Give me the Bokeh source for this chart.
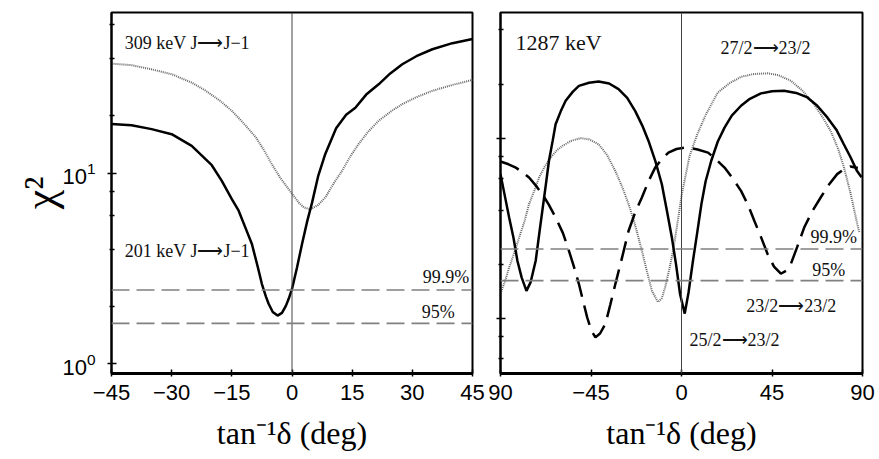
from bokeh.plotting import figure
from bokeh.layouts import row
from bokeh.models import FixedTicker, Span, Label, Range1d
from bokeh.embed import file_html
from bokeh.resources import INLINE

# ---------------- data ----------------
# Left panel: 201 keV J->J-1 (solid) and 309 keV J->J-1 (dotted grey)
l201_deg = [-45, -40, -35, -30, -25, -20, -17.5, -15, -13.3, -11.5, -10, -8.5, -7.5, -6.5,
            -5.8, -4.8, -3.6, -2.5, -1.5, -0.8, 0, 1.25, 2.5, 3.8, 5, 6.5, 8.3, 11, 13.5,
            15.8, 18.5, 21.6, 24.5, 27.5, 31, 35, 40, 45]
l201_chi = [18.1, 17.8, 17.0, 16.0, 13.9, 11.0, 9.1, 7.3, 6.35, 5.1, 4.25, 3.2, 2.62, 2.25,
            2.06, 1.87, 1.79, 1.85, 2.02, 2.2, 2.47, 3.2, 4.25, 5.6, 7.0, 9.6, 12.6, 17.2, 20.2,
            22.0, 25.8, 29.2, 33.3, 37.2, 41.0, 44.6, 48.0, 50.5]

l309_deg = [-45, -40, -35, -30, -25, -21.5, -18, -15, -12, -9, -7, -5, -3, -1.5, 0, 1.7, 3,
            4.6, 6.5, 8.3, 10.5, 12.5, 14.5, 16.6, 19, 21.6, 25, 27.5, 31, 35, 40, 45]
l309_chi = [37.5, 36.8, 35.0, 33.0, 29.8, 27.0, 24.0, 21.2, 18.2, 15.4, 13.2, 11.1, 9.5, 8.6,
            7.8, 7.0, 6.6, 6.45, 6.8, 7.45, 8.9, 10.3, 12.2, 14.2, 16.5, 18.8, 21.3, 23.0,
            25.0, 27.0, 29.0, 30.8]

# Right panel, 1287 keV: 25/2->23/2 (solid), 27/2->23/2 (dotted grey), 23/2->23/2 (dashed)
r25_deg = [-90, -87.5, -85.7, -83.5, -81.6, -79.5, -77.1, -75, -72.5, -70.5, -69.2, -67.5,
           -65.9, -64, -62.6, -60, -57.6, -54, -51, -46, -41.2, -36, -31.3, -27, -23, -19.5,
           -16.4, -13, -9.8, -7.3, -4.8, -2.7, -0.7, 1.6, 3.5, 5.7, 7.8, 9.9, 12, 14.8, 18,
           21.4, 25, 29.6, 34, 39.5, 45, 51, 57, 62.6, 67.5, 72.5, 77, 80.7, 84, 87.3, 89.5]
r25_chi = [6.35, 4.6, 3.65, 2.8, 2.10, 1.7, 1.43, 1.6, 2.10, 3.1, 3.98, 5.5,
           7.53, 9.8, 12.0, 14.2, 16.2, 18.2, 19.6, 20.4, 20.7, 20.2, 18.8, 16.8, 14.2, 11.8,
           9.7, 7.5, 5.6, 4.0, 2.83, 2.0, 1.37, 1.07, 1.4, 2.10, 3.0, 4.33, 5.8, 7.53, 9.6,
           11.5, 13.4, 15.2, 16.6, 17.8, 18.3, 18.4, 17.9, 16.9, 15.2, 13.1, 11.2, 9.3, 7.9, 6.6, 6.1]

r27_deg = [-90, -87.5, -85.7, -83, -80.7, -78, -75.8, -73, -70.8, -68, -65, -62, -59.2, -55,
           -50.2, -46, -41.2, -37, -32.9, -29.5, -26.3, -23, -19.7, -17, -14.7, -11.7, -9.8,
           -8.1, -6, -4, -2, 0, 2, 4, 7.9, 12, 18, 24, 29.6, 36, 42.8, 48, 54.4, 60, 65.9, 70,
           74.2, 78, 80.8, 84, 87.4, 88.5]
r27_chi = [1.38, 1.65, 1.93, 2.35, 2.83, 3.5, 4.33, 5.2, 6.08, 7.0, 7.85, 8.6, 9.1, 9.7,
           10.05, 9.9, 9.3, 8.1, 6.6, 5.4, 4.33, 3.3, 2.39, 1.8, 1.43, 1.24, 1.3,
           1.50, 1.9, 2.45, 3.4, 4.8, 6.2, 8.0, 10.6, 13.5, 18.0, 20.3, 22.0, 22.8, 23.0, 22.5,
           20.9, 18.5, 15.5, 13.2, 11.0, 8.7, 6.9, 5.0, 3.36, 3.0]

r23_deg = [-90, -86, -82.4, -79, -75.8, -72.5, -69.2, -66, -62.6, -59, -56, -53.5, -51, -48.9,
           -46.9, -44.8, -42.8, -40.5, -37.8, -35.4, -32.9, -29.5, -26.3, -23, -19.7, -16.4,
           -13.1, -9.8, -6.5, -2.5, 1.6, 3.3, 8, 13.2, 17, 21.4, 25.5, 29.6, 33, 36.2, 39.5,
           42.8, 46, 49.4, 52, 54.4, 57.5, 61, 65, 69.2, 73, 77.4, 81, 84, 87.7]
r23_chi = [7.46, 7.2, 6.9, 6.5, 6.08, 5.5, 4.92, 4.3, 3.65, 3.0, 2.39, 1.95, 1.56, 1.25,
           1.02, 0.86, 0.79, 0.83, 0.94, 1.2, 1.56, 2.2, 3.08, 3.9, 4.71, 5.8,
           6.9, 7.7, 8.36, 8.75, 8.9, 8.9, 8.7, 8.36, 7.7, 6.9, 6.0, 5.13, 4.3, 3.5, 2.85,
           2.29, 1.95, 1.78, 1.85, 2.02, 2.5, 3.21, 3.95, 4.71, 5.5, 6.35, 6.8, 7.0, 6.86]

# confidence limits (reduced chi^2)
limit_999 = 2.44
limit_95 = 1.63

left_xticks = [-45, -30, -15, 0, 15, 30, 45]
right_xticks = [-90, -45, 0, 45, 90]
right_xlabels = {-90: "90", -45: "\u221245", 0: "0", 45: "45", 90: "90"}
left_xlabels = {-45: "\u221245", -30: "\u221230", -15: "\u221215", 0: "0", 15: "15", 30: "30", 45: "45"}

SERIF = "Liberation Serif"
SANS = "Liberation Sans"
ARROW = "\u27f6"


def make_fig(width, xr, yr, bl, br, xticks, xlabels, yminor):
    p = figure(width=width, height=459, x_range=Range1d(*xr), y_range=Range1d(*yr),
               y_axis_type="log", output_backend="svg", toolbar_location=None,
               min_border_left=bl, min_border_right=br, min_border_top=12,
               min_border_bottom=86)
    p.grid.visible = False
    p.background_fill_color = "white"
    p.border_fill_color = "white"
    p.outline_line_color = "black"
    p.outline_line_width = 2

    xa = p.xaxis[0]
    xa.ticker = FixedTicker(ticks=xticks)
    xa.major_label_overrides = {float(k): v for k, v in xlabels.items()}
    xa.major_label_text_font = SANS
    xa.major_label_text_font_size = "22px"
    xa.major_label_text_color = "black"
    xa.major_label_standoff = 8
    xa.major_tick_in = 4
    xa.major_tick_out = 3
    xa.major_tick_line_width = 1.5
    xa.minor_tick_line_color = None
    xa.axis_line_width = 3
    xa.axis_label = "tan\u207b\u00b9\u03b4 (deg)"
    xa.axis_label_text_font = SERIF
    xa.axis_label_text_font_style = "normal"
    xa.axis_label_text_font_size = "32px"
    xa.axis_label_standoff = 12
    xa.axis_label_text_color = "black"

    ya = p.yaxis[0]
    ya.ticker = FixedTicker(ticks=[1, 10], minor_ticks=yminor)
    ya.major_tick_in = 5
    ya.major_tick_out = 4
    ya.minor_tick_in = 3
    ya.minor_tick_out = 2
    ya.major_tick_line_width = 1.5
    ya.minor_tick_line_width = 1.5
    ya.axis_line_width = 2
    ya.major_label_text_font = SANS
    ya.major_label_text_font_size = "22px"
    ya.major_label_text_color = "black"
    ya.major_label_standoff = 12
    return p


# ---------------- left panel ----------------
p1 = make_fig(486, (-45, 45), (0.89, 69.5), 111, 14, left_xticks, left_xlabels,
              [2, 4, 6, 8, 20, 40, 60])
p1.yaxis[0].axis_label = "\u03c7\u00b2"
p1.yaxis[0].axis_label_text_font = SERIF
p1.yaxis[0].axis_label_text_font_style = "normal"
p1.yaxis[0].axis_label_text_font_size = "44px"
p1.yaxis[0].axis_label_text_color = "black"
p1.yaxis[0].axis_label_standoff = -6

p1.add_layout(Span(location=0, dimension="height", line_color="#444444", line_width=1))
for lv in (limit_999, limit_95):
    p1.add_layout(Span(location=lv, dimension="width", line_color="#808080",
                       line_width=1.6, line_dash="18 7"))
p1.line(l309_deg, l309_chi, line_color="#666666", line_width=2, line_dash="1 1")
p1.line(l201_deg, l201_chi, line_color="black", line_width=2.5)

for txt, x, y, al in [("309 keV J" + ARROW + "J\u22121", -41.7, 48.1, "left"),
                      ("201 keV J" + ARROW + "J\u22121", -41.7, 3.92, "left"),
                      ("99.9%", 44.2, 2.84, "right"),
                      ("95%", 40.6, 1.86, "right")]:
    p1.add_layout(Label(x=x, y=y, text=txt, text_font=SERIF, text_font_size="18px",
                        text_align=al, text_baseline="middle", text_color="#111111"))

# ---------------- right panel ----------------
p2 = make_fig(393, (-90, 90), (0.498, 50.0), 14, 17, right_xticks, right_xlabels,
              [0.6, 0.8, 2, 4, 6, 8, 20, 40])
p2.yaxis[0].major_label_text_font_size = "1px"
p2.yaxis[0].major_label_text_alpha = 0
p2.yaxis[0].major_label_standoff = 0

p2.add_layout(Span(location=0, dimension="height", line_color="#444444", line_width=1))
for lv in (limit_999, limit_95):
    p2.add_layout(Span(location=lv, dimension="width", line_color="#808080",
                       line_width=1.6, line_dash="18 7"))
p2.line(r27_deg, r27_chi, line_color="#666666", line_width=2, line_dash="1 1")
p2.line(r23_deg, r23_chi, line_color="black", line_width=2.5, line_dash="20 9")
p2.line(r25_deg, r25_chi, line_color="black", line_width=2.5)

p2.add_layout(Label(x=-82.5, y=34.3, text="1287 keV", text_font=SERIF, text_font_size="22px",
                    text_align="left", text_baseline="middle", text_color="#111111"))
for txt, x, y in [("27/2" + ARROW + "23/2", 19.4, 31.8),
                  ("99.9%", 64.1, 2.84),
                  ("95%", 65.0, 1.87),
                  ("23/2" + ARROW + "23/2", 32.2, 1.185),
                  ("25/2" + ARROW + "23/2", 4.0, 0.768)]:
    p2.add_layout(Label(x=x, y=y, text=txt, text_font=SERIF, text_font_size="18px",
                        text_align="left", text_baseline="middle", text_color="#111111"))

layout = row(p1, p2)
open("out.html", "w").write(file_html(layout, INLINE))
